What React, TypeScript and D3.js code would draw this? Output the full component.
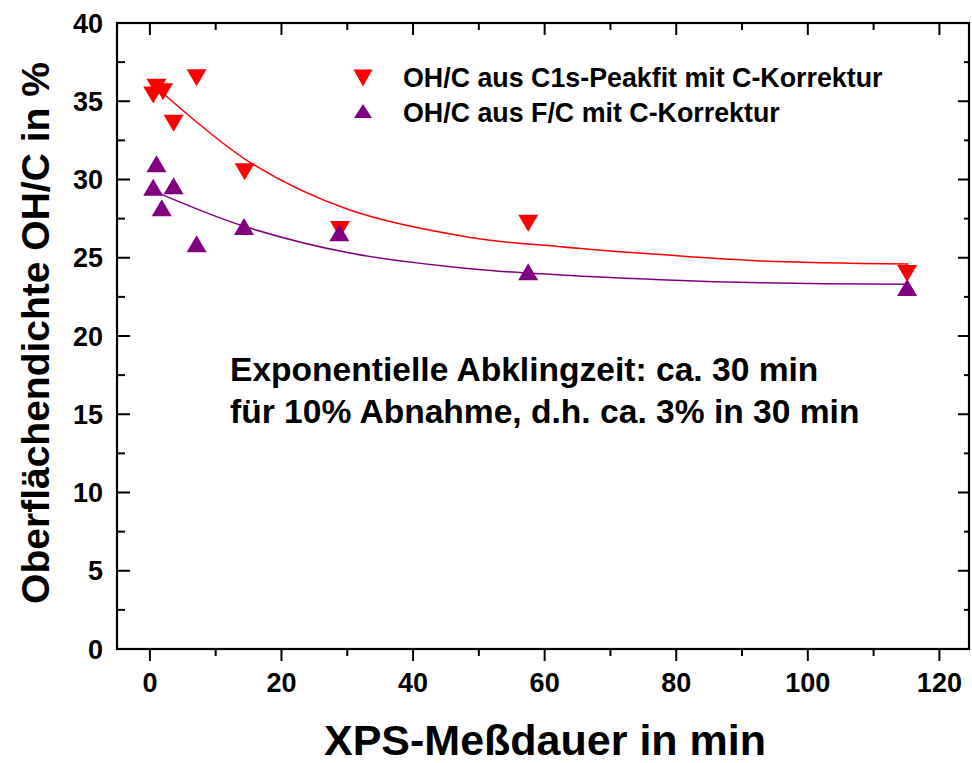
import React from 'react';
import * as d3 from 'd3';

// measurement time in min
const timeC1s = [0.5, 1, 2, 3.6, 7.1, 14.4, 28.9, 57.5, 115.1];
const ohC1s = [35.4, 35.9, 35.6, 33.6, 36.5, 30.5, 26.8, 27.2, 24.0];
const timeFC = [0.5, 1, 1.8, 3.6, 7.1, 14.3, 28.8, 57.5, 115.1];
const ohFC = [29.5, 31.0, 28.2, 29.6, 25.9, 27.0, 26.6, 24.1, 23.1];

// fit curves
const fitC1sX = [2.3, 15.2, 30.4, 48.7, 62.4, 77.6, 92.8, 115.3];
const fitC1sY = [35.4, 31.1, 28.05, 26.3, 25.7, 25.2, 24.8, 24.6];
const fitFCX = [1.5, 14.4, 30.4, 48.7, 62.4, 77.6, 92.8, 115.3];
const fitFCY = [29.1, 27.0, 25.3, 24.3, 23.9, 23.6, 23.4, 23.3];

const xTicks = [0, 20, 40, 60, 80, 100, 120];
const xMinor = [10, 30, 50, 70, 90, 110];
const yTicks = [0, 5, 10, 15, 20, 25, 30, 35, 40];
const yMinor = [2.5, 7.5, 12.5, 17.5, 22.5, 27.5, 32.5, 37.5];

const legendLabels = ['OH/C aus C1s-Peakfit mit C-Korrektur', 'OH/C aus F/C mit C-Korrektur'];
const noteLines = ['Exponentielle Abklingzeit: ca. 30 min', 'für 10% Abnahme, d.h. ca. 3% in 30 min'];

const RED = '#ff0000';
const PURPLE = '#800080';
const FONT = '"Liberation Sans", Arial, sans-serif';

const left = 117, right = 969, top = 23, bottom = 649;

const tri = (cx: number, cy: number, down: boolean, w = 20, h = 17) =>
  down
    ? `M${cx - w / 2},${cy - h / 2}L${cx + w / 2},${cy - h / 2}L${cx},${cy + h / 2}Z`
    : `M${cx - w / 2},${cy + h / 2}L${cx + w / 2},${cy + h / 2}L${cx},${cy - h / 2}Z`;

const App = () => {
  const x = d3.scaleLinear().domain([-5, 124.5]).range([left, right]);
  const y = d3.scaleLinear().domain([0, 40]).range([bottom, top]);

  const line = d3.line<[number, number]>()
    .x(d => x(d[0]))
    .y(d => y(d[1]))
    .curve(d3.curveCatmullRom.alpha(0.5));

  const c1sFit = fitC1sX.map((t, i) => [t, fitC1sY[i]] as [number, number]);
  const fcFit = fitFCX.map((t, i) => [t, fitFCY[i]] as [number, number]);

  return (
    <svg width={972} height={763} style={{ display: 'block', position: 'absolute', left: 0, top: 0, background: '#fff' }}
      fontFamily={FONT} fontWeight="bold">
      {/* frame */}
      <rect x={left} y={top} width={right - left} height={bottom - top} fill="none" stroke="#000" strokeWidth={2.2} />

      {/* x ticks */}
      {xTicks.map(t => (
        <g key={'xt' + t}>
          <line x1={x(t)} x2={x(t)} y1={bottom} y2={bottom + 12} stroke="#000" strokeWidth={2} />
          <line x1={x(t)} x2={x(t)} y1={top} y2={top + 12} stroke="#000" strokeWidth={2} />
          <text x={x(t)} y={692} textAnchor="middle" fontSize={27}>{t}</text>
        </g>
      ))}
      {xMinor.map(t => (
        <g key={'xm' + t}>
          <line x1={x(t)} x2={x(t)} y1={bottom} y2={bottom + 7} stroke="#000" strokeWidth={2} />
          <line x1={x(t)} x2={x(t)} y1={top} y2={top + 7} stroke="#000" strokeWidth={2} />
        </g>
      ))}

      {/* y ticks */}
      {yTicks.map(t => (
        <g key={'yt' + t}>
          <line x1={left} x2={left + 13} y1={y(t)} y2={y(t)} stroke="#000" strokeWidth={2} />
          <line x1={right} x2={right - 11} y1={y(t)} y2={y(t)} stroke="#000" strokeWidth={2} />
          <text x={103} y={y(t)} dy="0.36em" textAnchor="end" fontSize={27}>{t}</text>
        </g>
      ))}
      {yMinor.map(t => (
        <g key={'ym' + t}>
          <line x1={left} x2={left + 8} y1={y(t)} y2={y(t)} stroke="#000" strokeWidth={2} />
          <line x1={right} x2={right - 5} y1={y(t)} y2={y(t)} stroke="#000" strokeWidth={2} />
        </g>
      ))}

      {/* axis titles */}
      <text x={545} y={755} textAnchor="middle" fontSize={43}>XPS-Meßdauer in min</text>
      <text transform="translate(49,333) rotate(-90)" textAnchor="middle" fontSize={39}>Oberflächendichte OH/C in %</text>

      {/* fit curves */}
      <path d={line(c1sFit) || ''} fill="none" stroke={RED} strokeWidth={1.5} />
      <path d={line(fcFit) || ''} fill="none" stroke={PURPLE} strokeWidth={1.5} />

      {/* data */}
      {timeC1s.map((t, i) => (
        <path key={'r' + i} d={tri(x(t), y(ohC1s[i]), true)} fill={RED} />
      ))}
      {timeFC.map((t, i) => (
        <path key={'p' + i} d={tri(x(t), y(ohFC[i]), false)} fill={PURPLE} />
      ))}

      {/* legend */}
      <path d={tri(363, 78, true, 19, 17)} fill={RED} />
      <path d={tri(363, 111, false, 18, 14)} fill={PURPLE} />
      <text x={403} y={87} fontSize={26.8}>{legendLabels[0]}</text>
      <text x={403} y={122} fontSize={26.8}>{legendLabels[1]}</text>

      {/* annotation */}
      <text x={230} y={381} fontSize={33.6}>{noteLines[0]}</text>
      <text x={230} y={423} fontSize={33.6}>{noteLines[1]}</text>
    </svg>
  );
};

export default App;
